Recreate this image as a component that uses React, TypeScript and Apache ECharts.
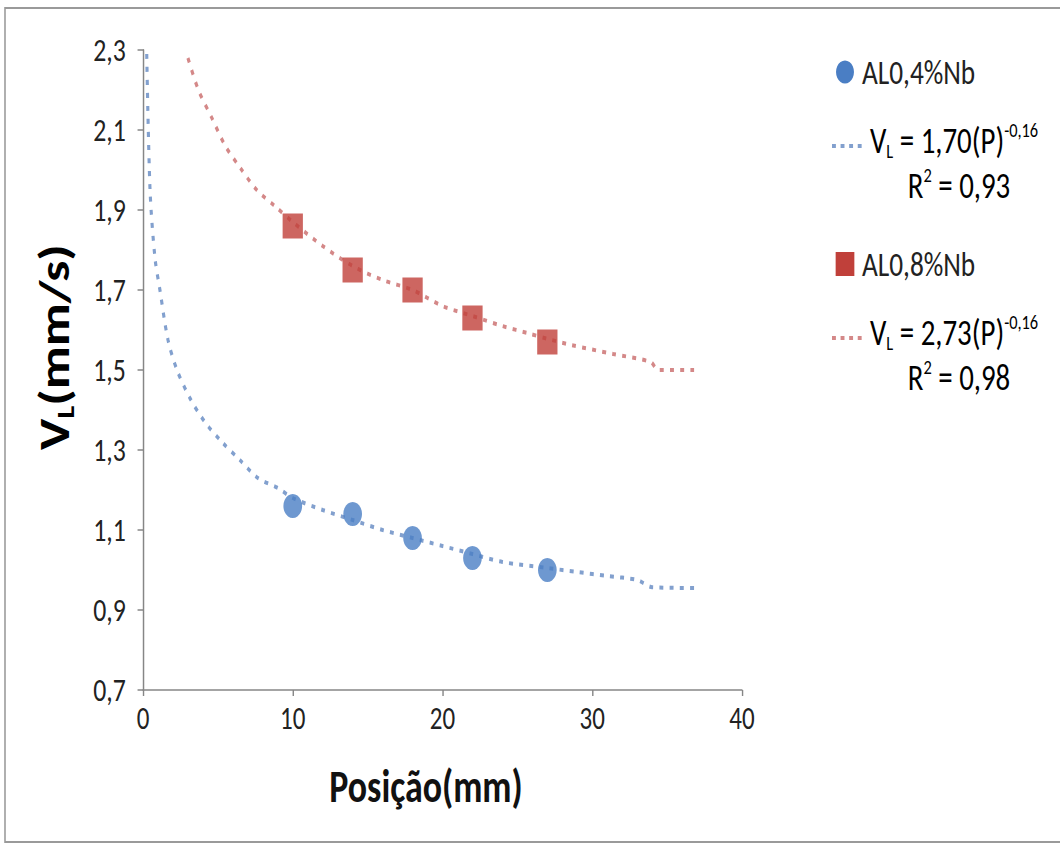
import React, { useEffect, useRef } from "react";
import * as echarts from "echarts";

const positions = [10, 14, 18, 22, 27];
const al04 = [1.16, 1.14, 1.08, 1.03, 1.0];
const al08 = [1.86, 1.75, 1.7, 1.63, 1.57];

const trend04X = [0.25, 0.47, 0.8, 1.13, 1.67, 2.27, 3.13, 4.13, 5.27, 6.47, 7.67, 9, 10, 12, 14, 16, 18, 20, 22, 24, 27, 29, 31, 33, 34, 37];
const trend04Y = [2.29, 1.95, 1.78, 1.7, 1.575, 1.5, 1.43, 1.37, 1.32, 1.275, 1.23, 1.205, 1.18, 1.15, 1.125, 1.1, 1.08, 1.06, 1.04, 1.02, 1.005, 0.995, 0.985, 0.975, 0.957, 0.955];

const trend08X = [3.0, 3.7, 4.6, 5.5, 6.5, 7.6, 8.8, 10, 12, 14, 16, 18, 20, 22, 24, 25.7, 27, 28.6, 31.4, 33.9, 34.4, 36.8];
const trend08Y = [2.28, 2.2, 2.13, 2.06, 2.005, 1.95, 1.91, 1.87, 1.81, 1.76, 1.725, 1.7, 1.66, 1.635, 1.61, 1.592, 1.578, 1.5625, 1.54, 1.52, 1.5, 1.5];

const yTicks = { min: 0.7, max: 2.3, interval: 0.2 };
const xTicks = { min: 0, max: 40, interval: 10 };

const seriesNames = ["AL0,4%Nb", "AL0,8%Nb"];
const fitNames = ["1,70", "2,73"];
const fitExps = ["-0,16", "-0,16"];
const r2 = ["0,93", "0,98"];

const FONT = "Carlito, Lato, 'Open Sans', sans-serif";
const BLUE = "#4A7EC4";
const RED = "#C0403A";
const BLUE_T = "#82A0CE";
const RED_T = "#D48888";

// horizontal squeeze of the whole picture (the reference is narrower than tall)
const S = 0.78;
const W = 1060 / S;
const H = 848;
const sx = (x: number) => x / S;

const zip = (xs: number[], ys: number[]) => xs.map((x, i) => [x, ys[i]]);

export default function App() {
  const ref = useRef<HTMLDivElement>(null);
  useEffect(() => {
    if (!ref.current) return;
    const chart = echarts.init(ref.current, undefined, { renderer: "svg" });
    const fmt = (v: number) => (Math.round(v * 10) / 10).toFixed(1).replace(".", ",");
    const richEq = {
      n: { fontSize: 37, fontFamily: FONT, color: "#222", lineHeight: 42 },
      sub: { fontSize: 21, fontFamily: FONT, color: "#222", verticalAlign: "bottom", lineHeight: 22 },
      sup: { fontSize: 21, fontFamily: FONT, color: "#222", verticalAlign: "top", lineHeight: 20 },
    };
    const legendItem = (i: number, y0: number, color: string, tcolor: string, square: boolean) => [
      square
        ? { type: "rect", shape: { x: sx(845) - 12, y: y0 - 12, width: 24, height: 24 }, style: { fill: color } }
        : { type: "circle", shape: { cx: sx(845), cy: y0, r: 11.5 }, style: { fill: color } },
      { type: "text", x: sx(862), y: y0, style: { text: seriesNames[i], font: `35px ${FONT}`, fill: "#222", verticalAlign: "middle" } },
      { type: "line", shape: { x1: sx(832), y1: y0 + 74, x2: sx(865), y2: y0 + 74 }, style: { stroke: tcolor, lineWidth: 4, lineDash: [5, 6] } },
      {
        type: "text",
        x: sx(870),
        y: y0 + 68,
        style: {
          text: `{n|V}{sub|L}{n| = ${fitNames[i]}(P)}{sup|${fitExps[i]}}`,
          rich: richEq,
          verticalAlign: "middle",
        },
      },
      {
        type: "text",
        x: sx(959),
        y: y0 + 113,
        style: { text: `{n|R}{sup|2}{n| = ${r2[i]}}`, rich: richEq, align: "center", verticalAlign: "middle" },
      },
    ];
    chart.setOption({
      animation: false,
      backgroundColor: "#fff",
      grid: { left: sx(143), right: W - sx(742), top: 50, bottom: H - 690, containLabel: false },
      xAxis: {
        type: "value",
        min: xTicks.min,
        max: xTicks.max,
        interval: xTicks.interval,
        axisLine: { show: true, onZero: false, lineStyle: { color: "#868686", width: 1.5 } },
        axisTick: { show: true, length: 6, lineStyle: { color: "#868686", width: 1.8 } },
        splitLine: { show: false },
        axisLabel: { fontSize: 32, fontFamily: FONT, color: "#222", margin: 12 },
      },
      yAxis: {
        type: "value",
        min: yTicks.min,
        max: yTicks.max,
        interval: yTicks.interval,
        axisLine: { show: true, lineStyle: { color: "#868686", width: 1.9 } },
        axisTick: { show: true, length: 7, lineStyle: { color: "#868686", width: 1.5 } },
        splitLine: { show: false },
        axisLabel: { fontSize: 33, fontFamily: FONT, color: "#222", margin: 22, formatter: fmt },
      },
      graphic: [
        { type: "rect", shape: { x: sx(5), y: 8, width: W, height: 834 }, style: { fill: "none", stroke: "#9a9a9a", lineWidth: 2 }, z: 100 },
        {
          type: "text",
          x: sx(426),
          y: 786,
          style: { text: "Posição(mm)", font: `bold 46px ${FONT}`, fill: "#111", align: "center", verticalAlign: "middle" },
        },
        {
          type: "text",
          x: sx(55),
          y: 347,
          rotation: Math.PI / 2,
          style: {
            text: "{b|V}{s|L}{b|(mm/s)}",
            align: "center",
            verticalAlign: "middle",
            rich: {
              b: { fontSize: 53, fontWeight: "bold", fontFamily: FONT, color: "#111", lineHeight: 58 },
              s: { fontSize: 30, fontWeight: "bold", fontFamily: FONT, color: "#111", lineHeight: 28, verticalAlign: "bottom" },
            },
          },
        },
        ...legendItem(0, 72, BLUE, BLUE_T, false),
        ...legendItem(1, 264, RED, RED_T, true),
      ],
      series: [
        {
          type: "line",
          data: zip(trend04X, trend04Y),
          showSymbol: false,
          smooth: 0.3,
          lineStyle: { color: BLUE_T, width: 4, type: [5, 8] },
          z: 1,
        },
        {
          type: "line",
          data: zip(trend08X, trend08Y),
          showSymbol: false,
          smooth: 0.3,
          lineStyle: { color: RED_T, width: 4, type: [5, 8] },
          z: 1,
        },
        {
          name: seriesNames[0],
          type: "scatter",
          data: zip(positions, al04),
          symbol: "circle",
          symbolSize: 24,
          itemStyle: { color: BLUE },
          z: 3,
        },
        {
          name: seriesNames[1],
          type: "scatter",
          data: zip(positions, al08),
          symbol: "rect",
          symbolSize: [26, 25],
          itemStyle: { color: RED },
          z: 3,
        },
      ],
    });
    return () => chart.dispose();
  }, []);
  return (
    <div style={{ position: "fixed", left: 0, top: 0, width: 1060, height: H, overflow: "hidden", background: "#fff" }}>
      <div
        ref={ref}
        style={{ width: W, height: H, transform: `scaleX(${S})`, transformOrigin: "0 0" }}
      />
    </div>
  );
}
